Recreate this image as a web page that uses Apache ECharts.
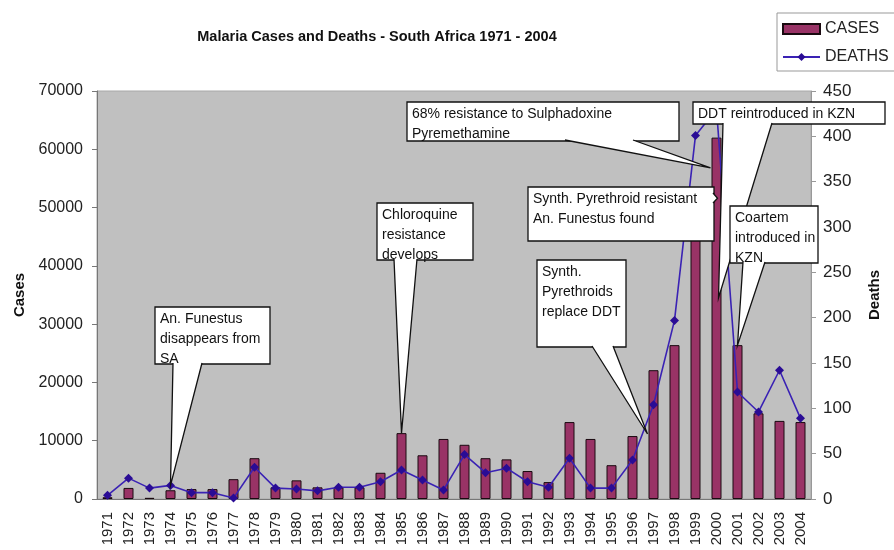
<!DOCTYPE html>
<html>
<head>
<meta charset="utf-8">
<script src="https://cdn.jsdelivr.net/npm/echarts@6/dist/echarts.min.js"></script>
<style>
  html, body { margin: 0; padding: 0; background: #fff; }
  #chart { width: 894px; height: 550px; }
</style>
</head>
<body>
<div id="chart"></div>
<script>
  var years = ['1971','1972','1973','1974','1975','1976','1977','1978','1979','1980',
               '1981','1982','1983','1984','1985','1986','1987','1988','1989','1990',
               '1991','1992','1993','1994','1995','1996','1997','1998','1999','2000',
               '2001','2002','2003','2004'];
  var cases = [300, 1900, 200, 1500, 1700, 1700, 3400, 7000, 2000, 3200,
               2000, 2000, 2000, 4500, 11300, 7500, 10300, 9300, 7000, 6800,
               4800, 2900, 13200, 10300, 5800, 10800, 22100, 26400, 51000, 62000,
               26400, 14700, 13400, 13200];
  var deaths = [4, 23, 12, 15, 7, 7, 1, 35, 12, 11,
                9, 13, 13, 19, 32, 21, 10, 49, 29, 34,
                19, 13, 45, 12, 12, 43, 104, 197, 401, 430,
                118, 96, 142, 89];
  var casesTicks = [0, 10000, 20000, 30000, 40000, 50000, 60000, 70000];
  var deathsTicks = [0, 50, 100, 150, 200, 250, 300, 350, 400, 450];

  // callout boxes: text, box [x, y, w, h] in px, wedge base, and what the wedge points at
  var notes = [
    { text: 'An. Funestus\ndisappears from\nSA', box: [155, 307, 115, 57],
      base: ['bottom', 173, 202], tip: { series: 1, year: '1974' } },
    { text: 'Chloroquine\nresistance\ndevelops', box: [377, 203, 96, 57],
      base: ['bottom', 394, 417], tip: { series: 0, year: '1985' } },
    { text: '68% resistance to Sulphadoxine\nPyremethamine', box: [407, 102, 272, 39],
      base: ['bottom', 565, 633], tip: { series: 0, year: '2000', value: 56800, dx: -6 } },
    { text: 'DDT reintroduced in KZN', box: [693, 102, 192, 22],
      base: ['bottom', 723, 772], tip: { series: 0, year: '2000', value: 34500, dx: 2 } },
    { text: 'Synth. Pyrethroid resistant\nAn. Funestus found', box: [528, 187, 186, 54],
      base: ['right', 193, 203], tip: { series: 0, year: '2000', value: 51600, dx: 1 } },
    { text: 'Synth.\nPyrethroids\nreplace DDT', box: [537, 260, 89, 87],
      base: ['bottom', 592, 613], tip: { series: 0, year: '1997', value: 11150, dx: -6 } },
    { text: 'Coartem\nintroduced in\nKZN', box: [730, 206, 88, 57],
      base: ['bottom', 743, 765], tip: { series: 0, year: '2001' } }
  ];

  var myChart = echarts.init(document.getElementById('chart'));
  var font = 'Arial, "Liberation Sans", sans-serif';

  var option = {
    animation: false,
    textStyle: { fontFamily: font },
    title: {
      text: 'Malaria Cases and Deaths - South Africa 1971 - 2004',
      left: 372, top: 24, textAlign: 'center',
      textStyle: { fontSize: 14.5, fontWeight: 'bold', color: '#111', fontFamily: font }
    },
    legend: {
      orient: 'vertical', left: 777, top: 13,
      itemWidth: 37, itemHeight: 10, itemGap: 12,
      padding: [8, 6, 6, 5],
      borderColor: '#999', borderWidth: 1,
      textStyle: { fontSize: 16, color: '#222', fontFamily: font },
      data: [{ name: 'CASES', icon: 'rect' }, { name: 'DEATHS' }]
    },
    grid: {
      left: 97, right: 83, top: 91, bottom: 51,
      show: true, backgroundColor: '#c0c0c0', borderColor: '#a8a8a8', borderWidth: 1
    },
    xAxis: {
      type: 'category', data: years,
      axisLine: { lineStyle: { color: '#777' } },
      axisTick: { length: 4, lineStyle: { color: '#777' } },
      axisLabel: { rotate: 90, fontSize: 15, color: '#222', margin: 13, interval: 0 }
    },
    yAxis: [
      {
        type: 'value', min: 0, max: 70000, interval: 10000,
        name: 'Cases', nameLocation: 'middle', nameRotate: 90, nameGap: 70,
        nameTextStyle: { fontSize: 15, fontWeight: 'bold', color: '#111' },
        axisLine: { show: true, lineStyle: { color: '#777' } },
        axisTick: { show: true, length: 5, lineStyle: { color: '#777' } },
        axisLabel: { fontSize: 16, color: '#222', margin: 14,
          formatter: function (v) { return casesTicks.indexOf(v) >= 0 ? String(v) : ''; } },
        splitLine: { show: false }
      },
      {
        type: 'value', min: 0, max: 450, interval: 50,
        name: 'Deaths', nameLocation: 'middle', nameRotate: 90, nameGap: 56,
        nameTextStyle: { fontSize: 15, fontWeight: 'bold', color: '#111' },
        axisLine: { show: true, lineStyle: { color: '#999' } },
        axisTick: { show: true, length: 5, lineStyle: { color: '#999' } },
        axisLabel: { fontSize: 17, color: '#222', margin: 12,
          formatter: function (v) { return deathsTicks.indexOf(v) >= 0 ? String(v) : ''; } },
        splitLine: { show: false }
      }
    ],
    series: [
      {
        name: 'CASES', type: 'bar', data: cases, barWidth: 10,
        itemStyle: { color: '#993366', borderColor: '#1a0a10', borderWidth: 1 }
      },
      {
        name: 'DEATHS', type: 'line', yAxisIndex: 1, data: deaths,
        symbol: 'diamond', symbolSize: 9,
        lineStyle: { color: '#3a22b4', width: 1.6 },
        itemStyle: { color: '#2a0c95' }
      }
    ]
  };
  myChart.setOption(option);

  // build the callouts once the scales exist
  var graphics = [];
  notes.forEach(function (n) {
    var i = years.indexOf(n.tip.year);
    var v = n.tip.value != null ? n.tip.value : (n.tip.series === 0 ? cases[i] : deaths[i]);
    var p = myChart.convertToPixel({ seriesIndex: n.tip.series }, [i, v]);
    var tip = [p[0] + (n.tip.dx || 0), p[1]];
    var b = n.box, a, c;
    if (n.base[0] === 'bottom') {
      a = [n.base[1], b[1] + b[3] - 1]; c = [n.base[2], b[1] + b[3] - 1];
    } else {
      a = [b[0] + b[2] - 1, n.base[1]]; c = [b[0] + b[2] - 1, n.base[2]];
    }
    graphics.push({ type: 'rect', z: 100, shape: { x: b[0], y: b[1], width: b[2], height: b[3] },
      style: { fill: '#fff', stroke: '#111', lineWidth: 1.3 } });
    graphics.push({ type: 'polygon', z: 100, shape: { points: [a, tip, c] },
      style: { fill: '#fff', stroke: null } });
    graphics.push({ type: 'polyline', z: 100, shape: { points: [a, tip, c] },
      style: { fill: null, stroke: '#111', lineWidth: 1.3 } });
    graphics.push({ type: 'text', z: 100, x: b[0] + 5, y: b[1] + 2,
      style: { text: n.text, font: '14px ' + font, fill: '#111', lineHeight: 20,
               verticalAlign: 'top' } });
  });
  myChart.setOption({ graphic: graphics });
</script>
</body>
</html>
